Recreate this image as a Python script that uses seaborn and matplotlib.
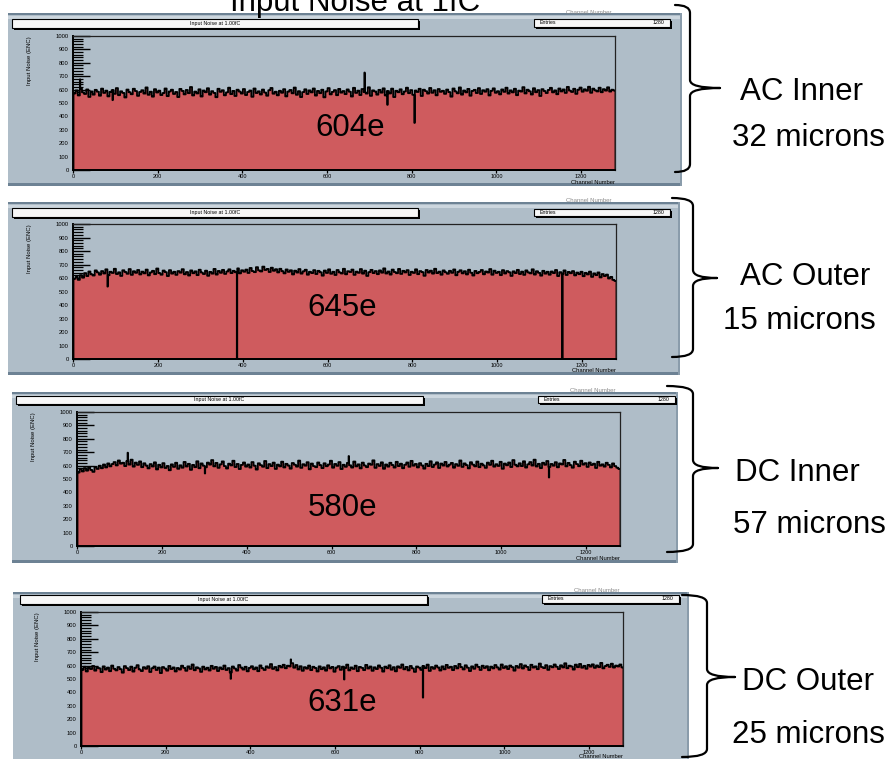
import numpy as np
import seaborn as sns
import matplotlib.pyplot as plt
from matplotlib.patches import Rectangle, PathPatch
from matplotlib.path import Path

# noise per channel, read in blocks of 5 channels (256 blocks = 1280 channels), one row = 80 channels
ac_inner = [575, 598, 560, 612, 583, 571, 605, 549, 590, 566, 602, 588, 558, 611, 579, 596,
            553, 587, 600, 572, 615, 562, 591, 579, 545, 604, 584, 569, 610, 593, 557, 586,
            599, 574, 620, 565, 588, 551, 607, 582, 596, 563, 578, 612, 555, 590, 603, 571,
            586, 548, 609, 594, 568, 601, 577, 623, 560, 589, 575, 606, 552, 597, 584, 614,
            566, 592, 579, 547, 610, 587, 599, 561, 583, 618, 570, 594, 556, 603, 589, 574,
            608, 563, 586, 597, 550, 612, 578, 591, 567, 604, 582, 558, 599, 616, 573, 588,
            561, 595, 580, 607, 553, 589, 601, 576, 619, 565, 592, 548, 585, 606, 571, 598,
            583, 612, 559, 594, 577, 603, 546, 590, 615, 568, 587, 600, 562, 609, 581, 593,
            570, 605, 588, 552, 617, 579, 596, 563, 608, 585, 574, 621, 557, 598, 590, 566,
            602, 581, 613, 560, 593, 575, 611, 548, 595, 584, 606, 569, 590, 618, 577, 600,
            565, 597, 586, 610, 556, 603, 592, 574, 616, 580, 599, 561, 608, 587, 595, 572,
            604, 585, 551, 612, 590, 576, 620, 566, 597, 583, 609, 558, 594, 602, 578, 615,
            571, 599, 588, 607, 560, 595, 613, 580, 592, 568, 605, 587, 618, 574, 598, 583,
            610, 562, 596, 589, 622, 575, 603, 591, 567, 614, 584, 600, 556, 607, 593, 578,
            601, 617, 583, 598, 569, 612, 590, 605, 579, 624, 596, 586, 610, 572, 603, 619,
            588, 606, 595, 625, 580, 611, 598, 590, 618, 584, 607, 596, 621, 589, 603, 597]
ac_outer = [598, 612, 590, 625, 606, 640, 618, 652, 631, 622, 660, 645, 628, 655, 637, 668,
            624, 650, 641, 672, 633, 646, 619, 661, 648, 635, 670, 627, 654, 642, 663, 630,
            651, 638, 666, 623, 645, 657, 632, 674, 640, 628, 659, 647, 618, 662, 636, 650,
            627, 655, 643, 669, 631, 648, 622, 660, 639, 653, 625, 665, 644, 633, 658, 620,
            649, 636, 671, 629, 656, 642, 664, 634, 652, 668, 640, 657, 646, 675, 638, 661,
            650, 666, 641, 678, 655, 647, 684, 660, 652, 688, 663, 671, 648, 680, 657, 669,
            645, 672, 654, 638, 667, 649, 661, 630, 658, 644, 670, 636, 653, 665, 628, 650,
            640, 662, 633, 657, 646, 621, 659, 641, 668, 635, 650, 626, 663, 645, 637, 672,
            631, 654, 648, 666, 627, 651, 642, 670, 636, 658, 619, 647, 664, 640, 655, 632,
            660, 643, 675, 637, 652, 629, 666, 648, 639, 671, 634, 657, 645, 662, 626, 650,
            641, 668, 632, 655, 647, 620, 663, 644, 658, 636, 672, 640, 651, 628, 660, 646,
            635, 657, 642, 667, 624, 650, 661, 638, 654, 630, 665, 643, 622, 656, 639, 649,
            663, 631, 652, 644, 670, 628, 658, 641, 650, 625, 662, 637, 655, 646, 619, 653,
            640, 664, 633, 651, 627, 660, 645, 638, 668, 629, 654, 642, 621, 657, 636, 650,
            628, 652, 640, 663, 618, 647, 635, 660, 626, 649, 639, 655, 623, 644, 632, 650,
            617, 642, 630, 651, 612, 638, 625, 645, 608, 633, 618, 629, 600, 612, 590, 582]
dc_inner = [552, 578, 560, 585, 566, 590, 571, 557, 595, 579, 603, 584, 612, 590, 620, 598,
            615, 630, 605, 642, 618, 625, 600, 637, 611, 648, 596, 626, 609, 635, 592, 621,
            604, 583, 615, 597, 628, 575, 610, 590, 622, 586, 601, 569, 613, 594, 625, 580,
            606, 588, 631, 597, 617, 572, 609, 592, 636, 584, 620, 603, 591, 626, 611, 645,
            598, 624, 587, 613, 635, 600, 582, 618, 605, 640, 593, 616, 578, 609, 627, 596,
            612, 589, 630, 603, 574, 621, 607, 595, 638, 585, 615, 600, 626, 579, 611, 598,
            633, 590, 617, 604, 581, 623, 610, 596, 641, 587, 614, 603, 629, 576, 619, 600,
            592, 627, 607, 585, 621, 599, 612, 640, 588, 616, 602, 630, 578, 610, 595, 624,
            606, 589, 634, 598, 613, 583, 626, 604, 592, 619, 610, 643, 587, 615, 601, 628,
            580, 612, 596, 625, 608, 589, 632, 600, 618, 584, 610, 627, 595, 639, 603, 616,
            590, 622, 605, 581, 617, 600, 636, 593, 612, 628, 586, 619, 604, 631, 597, 611,
            624, 588, 615, 602, 642, 594, 620, 607, 583, 629, 611, 598, 634, 592, 618, 605,
            587, 626, 609, 640, 596, 614, 601, 632, 580, 619, 606, 627, 593, 645, 610, 598,
            621, 600, 636, 589, 613, 630, 604, 648, 597, 617, 585, 625, 610, 638, 594, 616,
            603, 629, 591, 620, 612, 646, 598, 624, 607, 588, 633, 615, 599, 640, 611, 622,
            594, 627, 608, 618, 586, 632, 603, 613, 596, 625, 609, 590, 620, 600, 588, 578]
dc_outer = [572, 595, 560, 588, 578, 601, 566, 590, 583, 555, 598, 574, 589, 562, 604, 580,
            568, 593, 577, 551, 600, 585, 570, 596, 559, 588, 607, 575, 563, 592, 580, 599,
            556, 584, 597, 571, 589, 548, 593, 582, 566, 601, 578, 590, 560, 586, 574, 603,
            587, 565, 598, 579, 612, 569, 591, 583, 557, 596, 575, 588, 567, 602, 580, 594,
            563, 590, 577, 604, 571, 585, 552, 597, 582, 566, 608, 589, 574, 595, 561, 587,
            599, 576, 590, 562, 605, 584, 571, 598, 587, 615, 579, 593, 568, 602, 590, 610,
            584, 603, 597, 622, 588, 608, 575, 599, 565, 592, 581, 604, 570, 595, 586, 560,
            598, 577, 591, 566, 606, 583, 594, 558, 589, 600, 572, 596, 585, 611, 568, 590,
            579, 603, 562, 594, 587, 570, 609, 582, 597, 565, 591, 578, 605, 588, 559, 596,
            584, 606, 573, 592, 561, 598, 587, 612, 576, 594, 568, 601, 583, 557, 597, 589,
            572, 600, 585, 611, 564, 593, 580, 604, 590, 567, 598, 576, 609, 587, 595, 570,
            601, 583, 616, 592, 575, 606, 588, 563, 598, 580, 611, 594, 571, 603, 586, 599,
            569, 596, 583, 608, 590, 574, 612, 586, 599, 578, 604, 592, 566, 601, 588, 615,
            582, 605, 594, 571, 610, 589, 598, 577, 619, 593, 585, 607, 572, 600, 591, 612,
            595, 578, 606, 590, 621, 584, 603, 597, 574, 611, 592, 616, 588, 602, 580, 609,
            596, 613, 587, 605, 592, 624, 583, 600, 610, 594, 618, 589, 604, 597, 612, 590]

# single channels that stand out
ac_inner_spike_ch = [15, 92, 687, 741, 805]
ac_inner_spike_val = [680, 525, 731, 490, 355]
ac_outer_spike_ch = [80, 385, 1152]
ac_outer_spike_val = [540, 0, 0]
dc_inner_spike_ch = [118, 300, 639, 1111]
dc_inner_spike_val = [700, 545, 675, 515]
dc_outer_spike_ch = [352, 494, 620, 806]
dc_outer_spike_val = [505, 650, 500, 365]

names = ["AC Inner", "AC Outer", "DC Inner", "DC Outer"]
widths = ["32 microns", "15 microns", "57 microns", "25 microns"]
mean_noise = ["604e", "645e", "580e", "631e"]
y_ticks = list(range(0, 1001, 100))
y_minor = list(range(0, 1001, 20))
x_ticks = [0, 200, 400, 600, 800, 1000, 1200]
x_minor = list(range(0, 1281, 50))
n_channels = 1280

blocks = [ac_inner, ac_outer, dc_inner, dc_outer]
spikes = [(ac_inner_spike_ch, ac_inner_spike_val), (ac_outer_spike_ch, ac_outer_spike_val),
          (dc_inner_spike_ch, dc_inner_spike_val), (dc_outer_spike_ch, dc_outer_spike_val)]

W, H = 889, 759
BG = "#afbdc8"
DARK = "#6d8294"
RED = "#cf5b5e"

def rect(x0, y0, x1, y1):
    return [x0 / W, 1 - y1 / H, (x1 - x0) / W, (y1 - y0) / H]

def fx(x):
    return x / W

def fy(y):
    return 1 - y / H

# layout in pixels of the screenshot panels
layout = [
    dict(bg=(8, 13, 682, 186), ax=(73, 36, 615, 170), title=(12, 19, 418, 28), stats=(534, 19, 670, 27),
         brace=(675, 690, 720, 5, 88, 172), lab=(802, 92, 808, 138), num=(350, 128), cn=182),
    dict(bg=(8, 202, 680, 375), ax=(73, 224, 616, 359), title=(12, 208, 418, 217), stats=(534, 209, 670, 216),
         brace=(672, 693, 717, 198, 278, 357), lab=(805, 277, 799, 321), num=(342, 308), cn=371),
    dict(bg=(12, 392, 678, 563), ax=(77, 412, 620, 546), title=(16, 396, 423, 404), stats=(538, 396, 675, 403),
         brace=(667, 693, 718, 386, 468, 552), lab=(797, 473, 809, 525), num=(343, 508), cn=558),
    dict(bg=(13, 592, 689, 770), ax=(81, 612, 623, 746), title=(20, 595, 427, 604), stats=(542, 595, 679, 603),
         brace=(682, 707, 735, 595, 677, 757), lab=(808, 682, 808, 735), num=(342, 703), cn=756),
]

sns.set_style("white")
plt.rcParams["font.family"] = ["Liberation Sans", "DejaVu Sans"]
plt.rcParams.update({
    "text.color": "black", "xtick.color": "black", "ytick.color": "black",
    "xtick.bottom": True, "ytick.left": True, "xtick.minor.bottom": True, "ytick.minor.left": True,
    "xtick.direction": "in", "ytick.direction": "in",
    "ytick.minor.size": 7, "ytick.minor.width": 0.9, "xtick.minor.size": 2.5, "xtick.minor.width": 0.8,
})

fig = plt.figure(figsize=(W / 100, H / 100), dpi=100)

def box(x0, y0, x1, y1):
    # ROOT style pave with a dark drop shadow
    fig.patches.append(Rectangle((fx(x0 + 2), fy(y1 + 2)), (x1 - x0) / W, (y1 - y0) / H,
                                 transform=fig.transFigure, facecolor="black", edgecolor="none", zorder=2))
    fig.patches.append(Rectangle((fx(x0), fy(y1)), (x1 - x0) / W, (y1 - y0) / H,
                                 transform=fig.transFigure, facecolor="#f7f7f7", edgecolor="black",
                                 linewidth=0.8, zorder=3))

def brace(xe, xs, xt, yt, ym, yb):
    r = 8
    pts = [(xe, yt), (xs, yt), (xs, yt + r), (xs, ym - r), (xs, ym), (xt, ym),
           (xt, ym), (xs, ym), (xs, ym + r), (xs, yb - r), (xs, yb), (xe, yb)]
    half = [Path.MOVETO, Path.CURVE3, Path.CURVE3, Path.LINETO, Path.CURVE3, Path.CURVE3]
    verts = [(fx(x), fy(y)) for x, y in pts]
    fig.patches.append(PathPatch(Path(verts, half + half), transform=fig.transFigure, fill=False,
                                 edgecolor="black", linewidth=1.6, capstyle="round", zorder=5))

for i, L in enumerate(layout):
    bx0, by0, bx1, by1 = L["bg"]
    fig.patches.append(Rectangle((fx(bx0), fy(by1)), (bx1 - bx0) / W, (by1 - by0) / H,
                                 transform=fig.transFigure, facecolor=BG, edgecolor="none", zorder=0))
    # darker top line, light strip and heavy bottom band of the canvas
    fig.patches.append(Rectangle((fx(bx0), fy(by0 + 2)), (bx1 - bx0) / W, 2 / H,
                                 transform=fig.transFigure, facecolor=DARK, edgecolor="none", zorder=1))
    fig.patches.append(Rectangle((fx(bx0), fy(by0 + 6)), (bx1 - bx0) / W, 3 / H,
                                 transform=fig.transFigure, facecolor="#ccd6de", edgecolor="none", zorder=1))
    if i < 3:
        fig.patches.append(Rectangle((fx(bx0), fy(by1)), (bx1 - bx0) / W, 3 / H,
                                     transform=fig.transFigure, facecolor=DARK, edgecolor="none", zorder=1))
    fig.patches.append(Rectangle((fx(bx1 - 2), fy(by1)), 2 / W, (by1 - by0) / H,
                                 transform=fig.transFigure, facecolor="#8a9cab", edgecolor="none", zorder=1))

    # cut-off axis title of the canvas above
    fig.text(fx(L["stats"][0] + 55), fy(by0 - 1), "Channel Number", fontsize=4.3, color="#8a8a8a",
             ha="center", va="center")

    tx0, ty0, tx1, ty1 = L["title"]
    box(tx0, ty0, tx1, ty1)
    fig.text(fx((tx0 + tx1) / 2), fy((ty0 + ty1) / 2), "Input Noise at 1.00fC", fontsize=3.8,
             ha="center", va="center", zorder=6)
    sx0, sy0, sx1, sy1 = L["stats"]
    box(sx0, sy0, sx1, sy1)
    fig.text(fx(sx0 + 6), fy((sy0 + sy1) / 2), "Entries", fontsize=3.8, ha="left", va="center", zorder=6)
    fig.text(fx(sx1 - 6), fy((sy0 + sy1) / 2), str(n_channels), fontsize=3.8, ha="right", va="center", zorder=6)

    ax = fig.add_axes(rect(*L["ax"]))
    ax.set_zorder(1.5)
    ax.set_facecolor("none")
    vals = np.repeat(np.array(blocks[i], dtype=float), n_channels // len(blocks[i]))
    for ch, v in zip(*spikes[i]):
        vals[ch] = v
    sns.histplot(x=np.arange(n_channels) + 0.5, weights=vals, bins=n_channels, binrange=(0, n_channels),
                 element="step", fill=True, color=RED, alpha=1, edgecolor="black", linewidth=1.3, ax=ax)
    ax.set_xlim(0, n_channels)
    ax.set_ylim(0, 1000)
    ax.set_xticks(x_ticks)
    ax.set_xticks(x_minor, minor=True)
    ax.set_yticks(y_ticks)
    ax.set_yticks(y_minor, minor=True)
    ax.set_xticklabels([str(t) for t in x_ticks])
    ax.set_yticklabels([str(t) for t in y_ticks])
    ax.tick_params(which="both", left=True, bottom=True, top=False, right=False, colors="black")
    ax.tick_params(axis="y", which="major", direction="in", length=12, width=1.0, labelsize=4.2, pad=3)
    ax.tick_params(axis="y", which="minor", direction="in", length=7, width=0.9)
    ax.tick_params(axis="x", which="major", direction="inout", length=5, width=0.9, labelsize=4.0, pad=0.5)
    ax.tick_params(axis="x", which="minor", direction="in", length=2.5, width=0.8)
    for s in ["left", "bottom"]:
        ax.spines[s].set_linewidth(1.4)
        ax.spines[s].set_color("black")
    for s in ["top", "right"]:
        ax.spines[s].set_linewidth(0.9)
        ax.spines[s].set_color("#222222")
    ax.set_xlabel("")
    ax.set_ylabel("")
    ax.grid(False)

    axx0, axy0, axx1, axy1 = L["ax"]
    fig.text(fx(axx1), fy(L["cn"]), "Channel Number", fontsize=4.2, ha="right", va="center")
    fig.text(fx(axx0 - 43), fy(axy0), "Input Noise (ENC)", fontsize=4.3, rotation=90,
             ha="center", va="top")

    nx, ny = L["num"]
    fig.text(fx(nx), fy(ny), mean_noise[i], fontsize=22.5, ha="center", va="center", zorder=6)

    brace(*L["brace"])
    lx1, ly1, lx2, ly2 = L["lab"]
    fig.text(fx(lx1), fy(ly1), names[i], fontsize=22.5, ha="center", va="center")
    fig.text(fx(lx2), fy(ly2), widths[i], fontsize=22.5, ha="center", va="center")

fig.text(fx(355), fy(11), "Input Noise at 1fC", fontsize=22.5, ha="center", va="baseline")

fig.savefig("out.png", dpi=100)
